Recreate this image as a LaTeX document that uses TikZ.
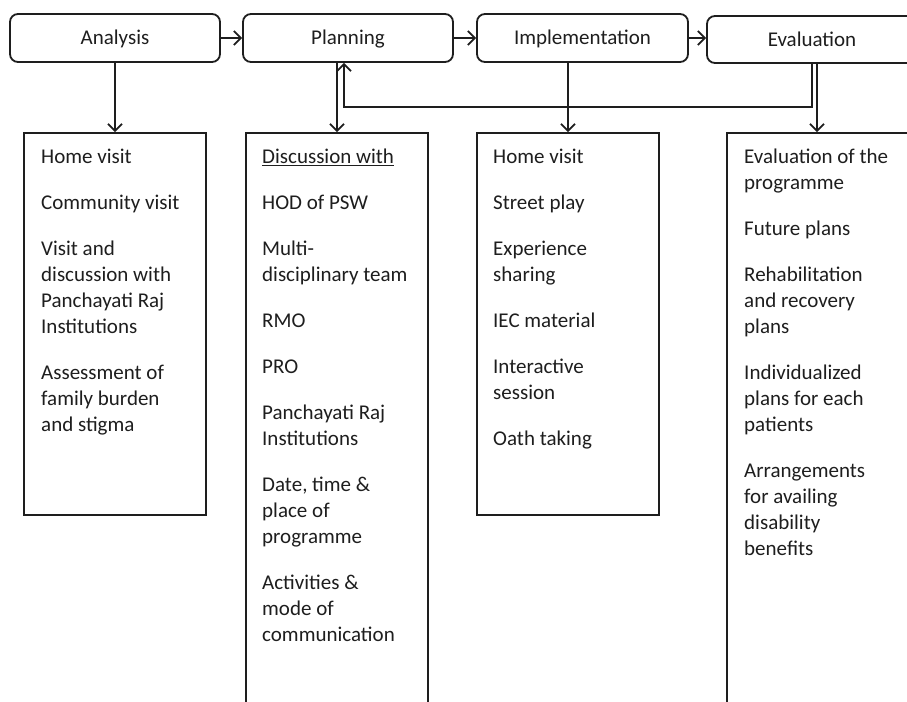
\documentclass[tikz,border=0pt]{standalone}
\usepackage{fontspec}
\setmainfont{Carlito}
\usetikzlibrary{arrows.meta}
\definecolor{ink}{HTML}{1E1E1E}
\tikzset{
  x=1pt, y=-1pt,
  every node/.style={text=ink},
  line/.style={draw=ink, line width=1.8pt},
  arr/.style={line, -{Straight Barb[length=7pt,width=14pt,line width=1.8pt]}},
  phase/.style={line, rounded corners=8pt, minimum height=48pt, inner sep=0pt, text depth=1pt, font=\fontsize{21}{26}\selectfont},
  col/.style={line, inner sep=0pt},
  items/.style={anchor=north west, inner sep=0pt, align=left, font=\fontsize{21}{26}\selectfont},
}
\newcommand{\gap}{\\[20pt]}
\begin{document}
\begin{tikzpicture}
\useasboundingbox (0,0) rectangle (907,701);
\fill[white] (0,0) rectangle (907,701);
\begin{scope}
\clip (0,0) rectangle (907,701);
% top phases
\node[phase, minimum width=210pt] (ana) at (115,38) {Analysis};
\node[phase, minimum width=210pt] (pla) at (348,38) {Planning};
\node[phase, minimum width=211pt] (imp) at (582.5,38) {Implementation};
\node[phase, minimum width=210pt, minimum height=47pt] (eva) at (812,39.5) {Evaluation};
% columns
\node[col, minimum width=182pt, minimum height=382pt] (A) at (115,324) {};
\node[col, minimum width=182pt, minimum height=587pt] (P) at (337,426.5) {};
\node[col, minimum width=182pt, minimum height=382pt] (I) at (568,324) {};
\node[col, minimum width=213pt, minimum height=587pt] (E) at (833.5,426.5) {};
% texts
\node[items] (tA) at (41,149) {Home visit\gap Community visit\gap Visit and\\ discussion with\\ Panchayati Raj\\ Institutions\gap Assessment of\\ family burden\\ and stigma};
\node[items] (tP) at (262,149) {\underline{Discussion with}\gap HOD of PSW\gap Multi-\\ disciplinary team\gap RMO\gap PRO\gap Panchayati Raj\\ Institutions\gap Date, time \&\\ place of\\ programme\gap Activities \&\\ mode of\\ communication};
\node[items] (tI) at (493,149) {Home visit\gap Street play\gap Experience\\ sharing\gap IEC material\gap Interactive\\ session\gap Oath taking};
\node[items] (tE) at (744,149) {Evaluation of the\\ programme\gap Future plans\gap Rehabilitation\\ and recovery\\ plans\gap Individualized\\ plans for each\\ patients\gap Arrangements\\ for availing\\ disability\\ benefits};
% horizontal flow
\draw[arr] (ana.east) -- (pla.west);
\draw[arr] (pla.east) -- (imp.west);
\draw[arr] (imp.east) -- (imp.east -| eva.west);
% down arrows
\draw[arr] (ana.south) -- (A.north);
\draw[arr] (P.north |- pla.south) -- (P.north);
\draw[arr] (I.north |- imp.south) -- (I.north);
\coordinate (ed) at (817,0);
\draw[arr] (ed |- eva.south) -- (ed |- E.north);
% feedback
\coordinate (fb) at (344,107);
\draw[arr] (eva.south) |- (fb) -- (fb |- pla.south);
\end{scope}
\end{tikzpicture}
\end{document}
